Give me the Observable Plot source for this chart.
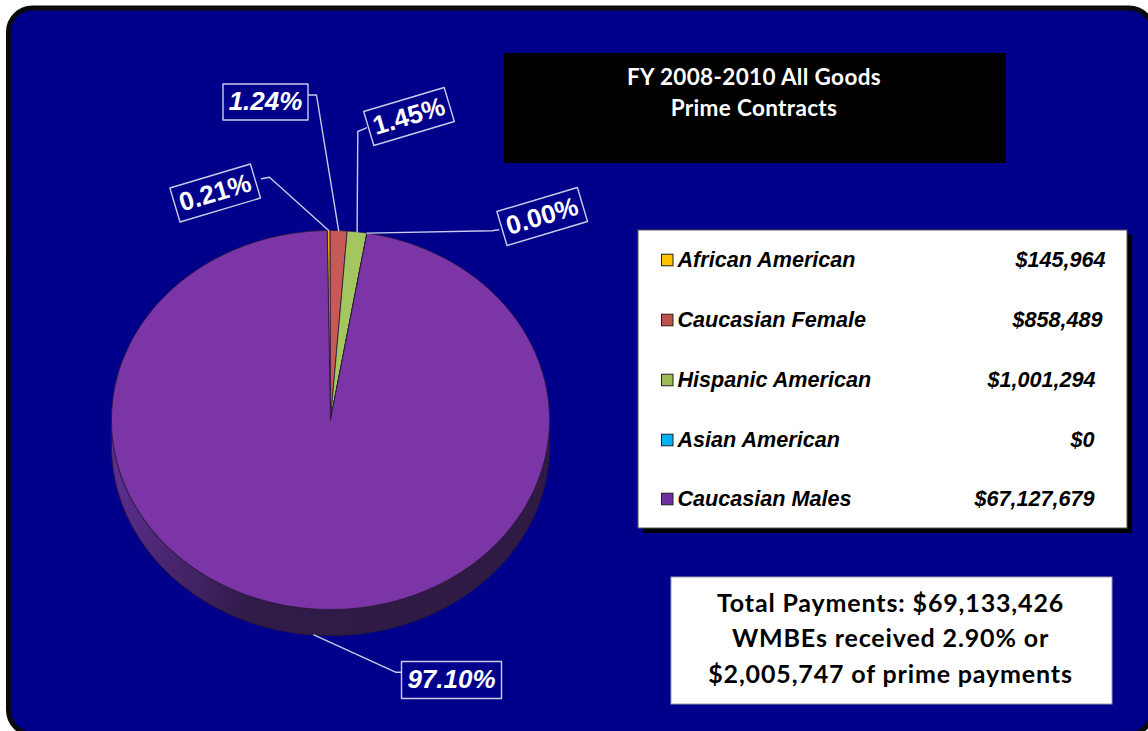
<!DOCTYPE html>
<html>
<head>
<meta charset="utf-8">
<style>
html,body{margin:0;padding:0;background:#fff}svg{display:block}
</style>
<script src="https://cdn.jsdelivr.net/npm/d3@7"></script>
<script src="https://cdn.jsdelivr.net/npm/@observablehq/plot@0.6"></script>
</head>
<body>
<script>
// ---- data ----
const categories = ["African American", "Caucasian Female", "Hispanic American", "Asian American", "Caucasian Males"];
const payments = [145964, 858489, 1001294, 0, 67127679];
const titleLines = ["FY 2008-2010 All Goods", "Prime Contracts"];
const summaryLines = ["Total Payments: $69,133,426", "WMBEs received 2.90% or", "$2,005,747 of prime payments"];

// ---- styles ----
const sliceColors = ["#F2B200", "#C75A56", "#A3C660", "#00B0F0", "#7B35A6"];
const swatchColors = ["#FFC000", "#C0504D", "#9BBB59", "#00B0F0", "#7030A0"];
const navy = "#00008B";
const edge = "#2A1838";
const labelStroke = "#C9CBE8";
const sansBold = "Liberation Sans, Arial, sans-serif";
const humanist = "Lato, Carlito, Calibri, sans-serif";

// ---- layout (page geometry, in the 1148x731 frame) ----
const W = 1148, H = 731;
const pie = {cx: 330, cy: 419.5, rx: 219, ry: 189.5, depth: 26, start: -0.015};
const rowY = [260, 320, 380, 440, 499];
const amountRight = [1105, 1102, 1095, 1094, 1094];
const labelLayout = [
  {cx: 214.7, cy: 192.5, w: 84, h: 35.5, angle: -16.6, italic: false, elbow: [[261, 178.3], [269, 176.7]]},
  {cx: 265, cy: 101.5, w: 85, h: 36, angle: 0, italic: true, elbow: [[307.5, 94.5], [316, 94.5]]},
  {cx: 408.5, cy: 116, w: 84, h: 35.5, angle: -16.6, italic: false, elbow: [[366, 127.3], [357.3, 131]]},
  {cx: 541.7, cy: 216, w: 84, h: 35.5, angle: -16.6, italic: false, elbow: [[498.3, 229.3], [491.7, 230.3]]},
  {cx: 451, cy: 679.5, w: 100, h: 37, angle: 0, italic: true, elbow: [[401, 671.7], [395, 671.7]]}
];

// ---- derived geometry ----
const total = d3.sum(payments);
const pct = d3.format(".2%");
const usd = d3.format("$,");
const arcs = d3.pie().sort(null).startAngle(pie.start).endAngle(pie.start + 2 * Math.PI)(payments);
const px = a => pie.cx + pie.rx * Math.sin(a);
const py = a => pie.cy - pie.ry * Math.cos(a);

const sliceRows = [];
arcs.forEach((arc, i) => {
  const name = categories[i];
  sliceRows.push({name, x: pie.cx, y: pie.cy});
  const n = Math.max(2, Math.ceil((arc.endAngle - arc.startAngle) / 0.01));
  d3.range(n + 1).forEach(k => {
    const a = arc.startAngle + (arc.endAngle - arc.startAngle) * k / n;
    sliceRows.push({name, x: px(a), y: py(a)});
  });
  sliceRows.push({name, x: pie.cx, y: pie.cy});
});

const sideAngles = d3.range(Math.PI / 2, 3 * Math.PI / 2 + 0.001, 0.01);
const sideRows = [
  ...sideAngles.map(a => ({x: px(a), y: py(a) + pie.depth})),
  ...sideAngles.slice().reverse().map(a => ({x: px(a), y: py(a)}))
];

const labelRows = labelLayout.map((l, i) => ({...l, text: pct(payments[i] / total)}));
const boxRows = labelRows.flatMap((l, i) => {
  const t = l.angle * Math.PI / 180, c = Math.cos(t), s = Math.sin(t);
  return [[-1, -1], [1, -1], [1, 1], [-1, 1], [-1, -1]].map(([u, v]) => ({
    id: i,
    x: l.cx + u * l.w / 2 * c - v * l.h / 2 * s,
    y: l.cy + u * l.w / 2 * s + v * l.h / 2 * c
  }));
});
const leaderRows = labelRows.flatMap((l, i) => {
  const mid = (arcs[i].startAngle + arcs[i].endAngle) / 2;
  const isFront = Math.cos(mid) < 0;
  const tip = {x: px(mid), y: py(mid) + (isFront ? pie.depth : 0)};
  return [...l.elbow.map(([x, y]) => ({id: i, x, y})), {id: i, ...tip}];
});

const legendRows = categories.map((name, i) => ({name, y: rowY[i], amount: usd(payments[i]), right: amountRight[i]}));

const sideGradient = () => {
  const defs = d3.create("svg:defs");
  const g = defs.append("linearGradient").attr("id", "pieSide")
    .attr("gradientUnits", "userSpaceOnUse")
    .attr("x1", pie.cx - pie.rx).attr("x2", pie.cx + pie.rx).attr("y1", 0).attr("y2", 0);
  g.append("stop").attr("offset", "0").attr("stop-color", "#5C2E94");
  g.append("stop").attr("offset", "0.12").attr("stop-color", "#4A2670");
  g.append("stop").attr("offset", "0.32").attr("stop-color", "#301B48");
  g.append("stop").attr("offset", "1").attr("stop-color", "#2E1A42");
  return defs.node();
};

const legendFont = {fill: "#000", fontFamily: sansBold, fontWeight: "bold", fontStyle: "italic", fontSize: 21.6};

const chart = Plot.plot({
  width: W, height: H,
  margin: 0,
  style: {background: "#fff", overflow: "hidden"},
  x: {domain: [0, W], range: [0, W], axis: null},
  y: {domain: [0, H], range: [0, H], axis: null},
  color: {domain: categories, range: sliceColors},
  marks: [
    sideGradient,
    // frame
    Plot.rect([{x1: 8.5, x2: 1153, y1: 8, y2: 734}], {x1: "x1", x2: "x2", y1: "y1", y2: "y2", fill: navy, stroke: "#0a0a0a", strokeWidth: 5, rx: 24}),
    // title box
    Plot.rect([{x1: 504, x2: 1006, y1: 53, y2: 163}], {x1: "x1", x2: "x2", y1: "y1", y2: "y2", fill: "#000"}),
    Plot.text(titleLines, {x: 753.5, y: (d, i) => [77, 108][i], text: d => d, fill: "#fff", fontFamily: humanist, fontWeight: "bold", fontSize: 22.5}),
    // legend box
    Plot.rect([{x1: 643, x2: 1132, y1: 234, y2: 533}], {x1: "x1", x2: "x2", y1: "y1", y2: "y2", fill: "#000"}),
    Plot.rect([{x1: 638, x2: 1127, y1: 230, y2: 528}], {x1: "x1", x2: "x2", y1: "y1", y2: "y2", fill: "#fff", stroke: "#555", strokeWidth: 1}),
    Plot.rect(legendRows, {x1: 661.5, x2: 673, y1: d => d.y - 5.8, y2: d => d.y + 5.8, fill: (d, i) => swatchColors[i], stroke: "#222", strokeWidth: 1}),
    Plot.text(legendRows, {x: 677, y: d => d.y - 0.5, text: "name", textAnchor: "start", ...legendFont}),
    Plot.text(legendRows, {x: "right", y: d => d.y - 0.5, text: "amount", textAnchor: "end", ...legendFont}),
    // summary box
    Plot.rect([{x1: 671, x2: 1112, y1: 577, y2: 704}], {x1: "x1", x2: "x2", y1: "y1", y2: "y2", fill: "#fff", stroke: "#9a9ab0", strokeWidth: 1}),
    Plot.text(summaryLines, {x: 890, y: (d, i) => [603, 638, 674][i], text: d => d, fill: "#000", fontFamily: humanist, fontWeight: "bold", fontSize: 25}),
    // pie
    Plot.line(sideRows, {x: "x", y: "y", fill: "url(#pieSide)", stroke: edge, strokeWidth: 1}),
    Plot.line(sliceRows, {x: "x", y: "y", z: "name", fill: "name", stroke: edge, strokeWidth: 0.8, curve: "linear"}),
    // data labels
    Plot.line(leaderRows, {x: "x", y: "y", z: "id", stroke: labelStroke, strokeWidth: 1.4}),
    Plot.line(boxRows, {x: "x", y: "y", z: "id", stroke: labelStroke, strokeWidth: 1.4, fill: navy}),
    ...labelRows.map(l => Plot.text([l], {x: "cx", y: "cy", text: "text", rotate: l.angle, fill: "#fff", fontFamily: sansBold, fontWeight: "bold", fontStyle: l.italic ? "italic" : "normal", fontSize: 26}))
  ]
});
// the reference's humanist lines are set a little wider than the installed font
d3.select(chart).selectAll("text").each(function() {
  const t = this.textContent;
  if (summaryLines.includes(t)) this.style.letterSpacing = "0.85px";
  if (titleLines.includes(t)) this.style.letterSpacing = "0.35px";
});
document.body.appendChild(chart);
</script>
</body>
</html>
